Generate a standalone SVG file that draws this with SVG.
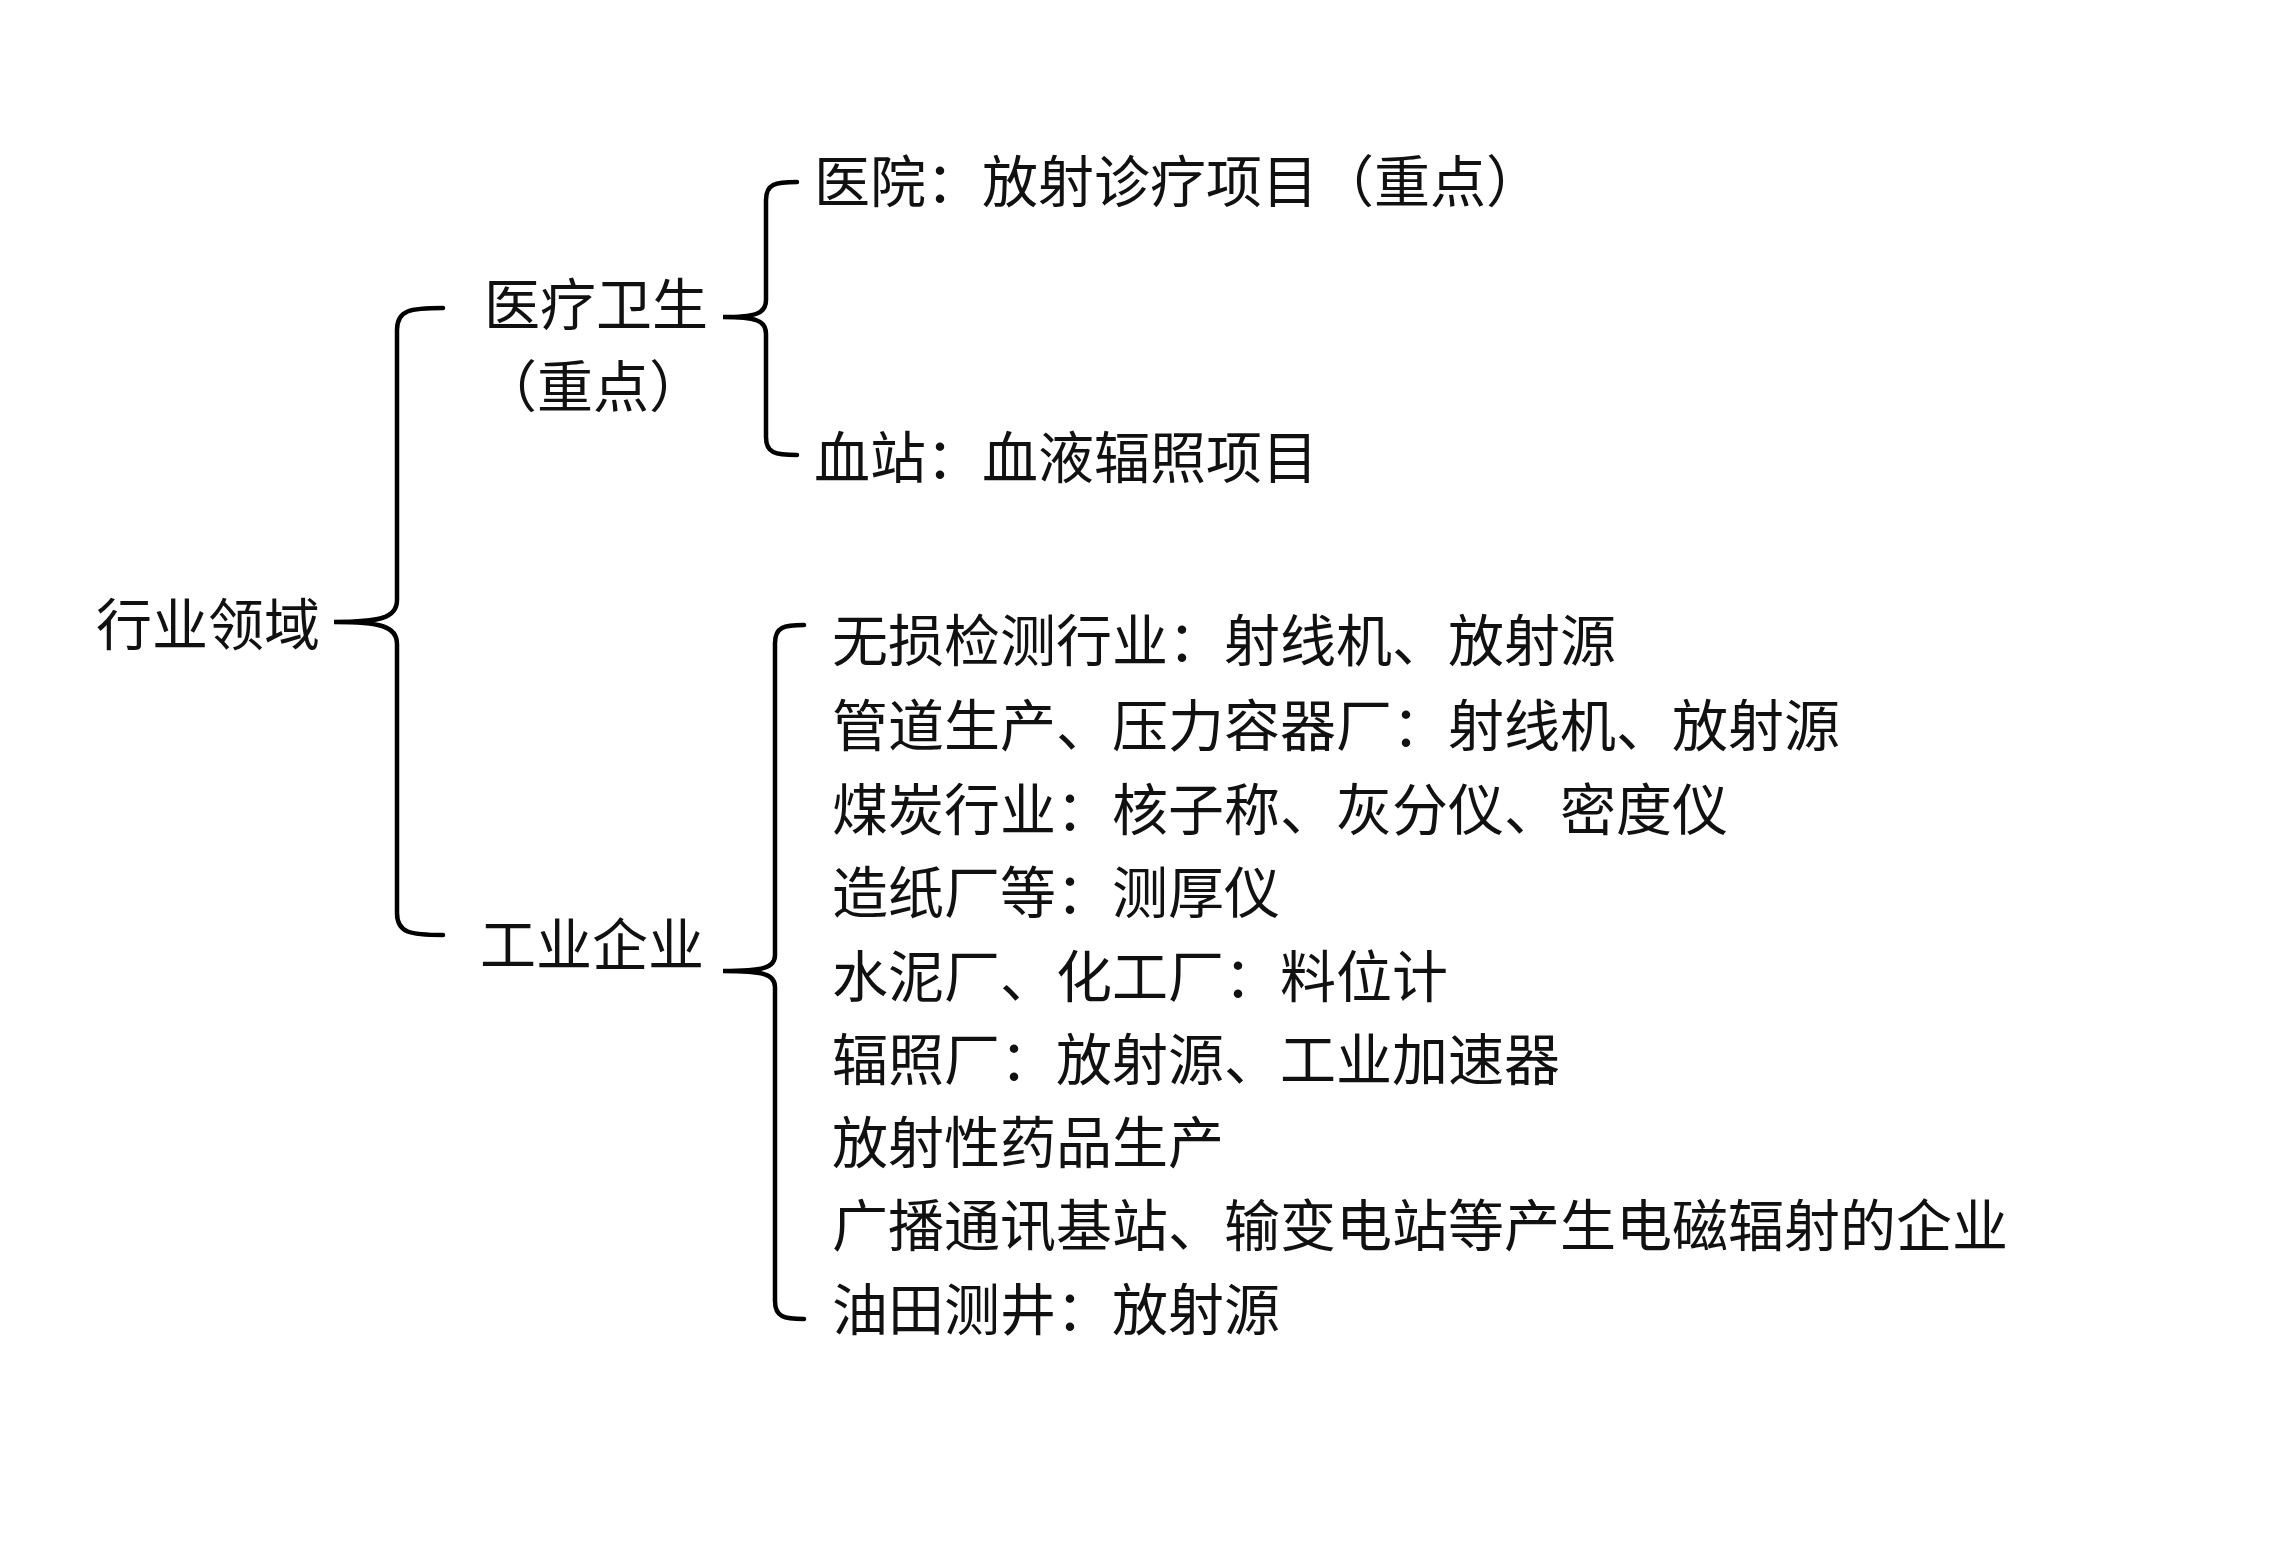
<svg xmlns="http://www.w3.org/2000/svg" width="2280" height="1554" viewBox="0 0 2280 1554">
<style>
text{font-family:"Noto Sans CJK SC","Liberation Serif",serif;font-size:56px;fill:#111;dominant-baseline:central}
.b{fill:none;stroke:#000;stroke-width:4.5;stroke-linecap:round}
</style>
<rect width="2280" height="1554" fill="#fff"/>
<g id="connectors">
<path class="b" d="M443,308 C410,308 397,310 397,330 L397,600 C397,618 380,622 334,622 C380,622 397,626 397,644 L397,913 C397,933 410,935 443,935"/>
<path class="b" d="M797,182 C775,182 766,184 766,200 L766,300 C766,314 755,317 723,317 C755,317 766,320 766,334 L766,437 C766,453 775,455 797,455"/>
<path class="b" d="M804,625 C784,625 775,627 775,643 L775,955 C775,968 763,971 723,971 C763,971 775,974 775,987 L775,1301 C775,1317 784,1319 804,1319"/>
</g>
<g id="root"><text x="96" y="620">行业领域</text></g>
<g id="medical"><text x="484" y="300">医疗卫生</text><text x="593" y="382" text-anchor="middle">（重点）</text></g>
<g id="hospital"><text x="814" y="177">医院：放射诊疗项目（重点）</text></g>
<g id="bloodstation"><text x="814" y="453">血站：血液辐照项目</text></g>
<g id="industry"><text x="480" y="940">工业企业</text></g>
<g id="industry-items">
<text x="832" y="636">无损检测行业：射线机、放射源</text>
<text x="832" y="721">管道生产、压力容器厂：射线机、放射源</text>
<text x="832" y="805">煤炭行业：核子称、灰分仪、密度仪</text>
<text x="832" y="888">造纸厂等：测厚仪</text>
<text x="832" y="972">水泥厂、化工厂：料位计</text>
<text x="832" y="1055">辐照厂：放射源、工业加速器</text>
<text x="832" y="1138">放射性药品生产</text>
<text x="832" y="1221">广播通讯基站、输变电站等产生电磁辐射的企业</text>
<text x="832" y="1305">油田测井：放射源</text>
</g>
</svg>
